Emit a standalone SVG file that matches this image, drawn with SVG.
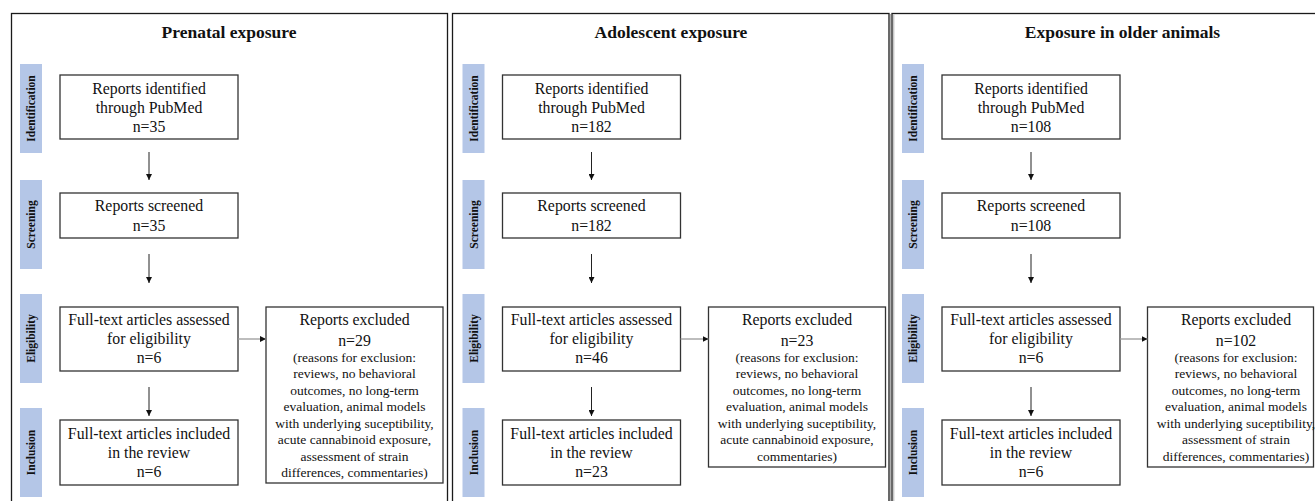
<svg xmlns="http://www.w3.org/2000/svg" width="1315" height="501" viewBox="0 0 1315 501" font-family="'Liberation Serif', Tinos, 'Times New Roman', serif">
<style>
.panel{fill:none;stroke:#1a1a1a;stroke-width:1.3}
.shadow{fill:none;stroke:#b0b0b0;stroke-width:1}
.bar{fill:#b4c6e7}
.box{fill:#fff;stroke:#333;stroke-width:1.3}
text{font-family:'Liberation Serif',Tinos,'Times New Roman',serif}
.t{font-size:15.8px;fill:#111;text-anchor:middle}
.s{font-size:13.5px}
.title{font-weight:bold;font-size:17.5px;fill:#111;text-anchor:middle}
.lab{font-weight:bold;font-size:11.5px;fill:#111;text-anchor:middle}
.arr{stroke:#222;stroke-width:1;fill:none;marker-end:url(#ah)}
.harr{stroke:#999;stroke-width:1.3;fill:none;marker-end:url(#ah)}
</style>
<defs>
<marker id="ah" markerUnits="userSpaceOnUse" markerWidth="7" markerHeight="6" refX="6" refY="3" orient="auto">
<path d="M0,0 L6,3 L0,6 z" fill="#111"/>
</marker>
</defs>
<rect width="1315" height="501" fill="#fff"/>

<g id="panel-borders">
<rect class="panel" x="11.5" y="13.5" width="436" height="500"/>
<rect class="panel" x="452.5" y="13.5" width="436.5" height="500"/>
<line class="shadow" x1="890.5" y1="14" x2="890.5" y2="501"/>
<rect class="panel" x="892" y="13.5" width="440" height="500"/>
<line class="shadow" x1="893.8" y1="14.5" x2="893.8" y2="501"/>
</g>

<!-- Panel 1 -->
<g id="panel1">
<text class="title" x="229" y="38">Prenatal exposure</text>
<g id="p1-stages">
<rect class="bar" x="20" y="64" width="22" height="89"/>
<text class="lab" transform="translate(35,108.5) rotate(-90)">Identification</text>
<rect class="bar" x="20" y="180" width="22" height="89"/>
<text class="lab" transform="translate(35,224.5) rotate(-90)">Screening</text>
<rect class="bar" x="20" y="294" width="22" height="89"/>
<text class="lab" transform="translate(35,338.5) rotate(-90)">Eligibility</text>
<rect class="bar" x="20" y="408" width="22" height="89"/>
<text class="lab" transform="translate(35,452.5) rotate(-90)">Inclusion</text>
</g>
<g id="p1-identified">
<rect class="box" x="60" y="75" width="178" height="64"/>
<text class="t" x="149" y="94">Reports identified</text>
<text class="t" x="149" y="113">through PubMed</text>
<text class="t" x="149" y="132">n=35</text>
</g>
<g id="p1-screened">
<rect class="box" x="60" y="193" width="178" height="45"/>
<text class="t" x="149" y="211">Reports screened</text>
<text class="t" x="149" y="231">n=35</text>
</g>
<g id="p1-assessed">
<rect class="box" x="60" y="307" width="178" height="64"/>
<text class="t" x="149" y="325">Full-text articles assessed</text>
<text class="t" x="149" y="344">for eligibility</text>
<text class="t" x="149" y="363">n=6</text>
</g>
<g id="p1-included">
<rect class="box" x="60" y="420" width="178" height="65"/>
<text class="t" x="149" y="439">Full-text articles included</text>
<text class="t" x="149" y="458">in the review</text>
<text class="t" x="149" y="477">n=6</text>
</g>
<g id="p1-excluded">
<rect class="box" x="266" y="307" width="177" height="176"/>
<text class="t" x="354.5" y="325">Reports excluded</text>
<text class="t" x="354.5" y="346">n=29</text>
<text class="t s" x="354.5" y="361.5">(reasons for exclusion:</text>
<text class="t s" x="354.5" y="378">reviews, no behavioral</text>
<text class="t s" x="354.5" y="394.5">outcomes, no long-term</text>
<text class="t s" x="354.5" y="411">evaluation, animal models</text>
<text class="t s" x="354.5" y="427.5">with underlying suceptibility,</text>
<text class="t s" x="354.5" y="444">acute cannabinoid exposure,</text>
<text class="t s" x="354.5" y="460.5">assessment of strain</text>
<text class="t s" x="354.5" y="477">differences, commentaries)</text>
</g>
<g id="p1-connectors">
<line class="arr" x1="149" y1="152" x2="149" y2="180"/>
<line class="arr" x1="149" y1="254" x2="149" y2="283"/>
<line class="arr" x1="149" y1="387" x2="149" y2="416"/>
<line class="harr" x1="238" y1="339" x2="266" y2="339"/>
</g>
</g>

<!-- Panel 2 -->
<g id="panel2">
<text class="title" x="671" y="38">Adolescent exposure</text>
<g id="p2-stages">
<rect class="bar" x="462.5" y="64" width="22" height="89"/>
<text class="lab" transform="translate(477.5,108.5) rotate(-90)">Identification</text>
<rect class="bar" x="462.5" y="180" width="22" height="89"/>
<text class="lab" transform="translate(477.5,224.5) rotate(-90)">Screening</text>
<rect class="bar" x="462.5" y="294" width="22" height="89"/>
<text class="lab" transform="translate(477.5,338.5) rotate(-90)">Eligibility</text>
<rect class="bar" x="462.5" y="408" width="22" height="89"/>
<text class="lab" transform="translate(477.5,452.5) rotate(-90)">Inclusion</text>
</g>
<g id="p2-identified">
<rect class="box" x="502.5" y="75" width="178" height="64"/>
<text class="t" x="591.5" y="94">Reports identified</text>
<text class="t" x="591.5" y="113">through PubMed</text>
<text class="t" x="591.5" y="132">n=182</text>
</g>
<g id="p2-screened">
<rect class="box" x="502.5" y="193" width="178" height="45"/>
<text class="t" x="591.5" y="211">Reports screened</text>
<text class="t" x="591.5" y="231">n=182</text>
</g>
<g id="p2-assessed">
<rect class="box" x="502.5" y="307" width="178" height="64"/>
<text class="t" x="591.5" y="325">Full-text articles assessed</text>
<text class="t" x="591.5" y="344">for eligibility</text>
<text class="t" x="591.5" y="363">n=46</text>
</g>
<g id="p2-included">
<rect class="box" x="502.5" y="420" width="178" height="65"/>
<text class="t" x="591.5" y="439">Full-text articles included</text>
<text class="t" x="591.5" y="458">in the review</text>
<text class="t" x="591.5" y="477">n=23</text>
</g>
<g id="p2-excluded">
<rect class="box" x="708.5" y="307" width="177" height="160"/>
<text class="t" x="797" y="325">Reports excluded</text>
<text class="t" x="797" y="346">n=23</text>
<text class="t s" x="797" y="361.5">(reasons for exclusion:</text>
<text class="t s" x="797" y="378">reviews, no behavioral</text>
<text class="t s" x="797" y="394.5">outcomes, no long-term</text>
<text class="t s" x="797" y="411">evaluation, animal models</text>
<text class="t s" x="797" y="427.5">with underlying suceptibility,</text>
<text class="t s" x="797" y="444">acute cannabinoid exposure,</text>
<text class="t s" x="797" y="460.5">commentaries)</text>
</g>
<g id="p2-connectors">
<line class="arr" x1="591.5" y1="152" x2="591.5" y2="180"/>
<line class="arr" x1="591.5" y1="254" x2="591.5" y2="283"/>
<line class="arr" x1="591.5" y1="387" x2="591.5" y2="416"/>
<line class="harr" x1="680.5" y1="339" x2="708.5" y2="339"/>
</g>
</g>

<!-- Panel 3 -->
<g id="panel3">
<text class="title" x="1122.5" y="38">Exposure in older animals</text>
<g id="p3-stages">
<rect class="bar" x="902" y="64" width="22" height="89"/>
<text class="lab" transform="translate(917,108.5) rotate(-90)">Identification</text>
<rect class="bar" x="902" y="180" width="22" height="89"/>
<text class="lab" transform="translate(917,224.5) rotate(-90)">Screening</text>
<rect class="bar" x="902" y="294" width="22" height="89"/>
<text class="lab" transform="translate(917,338.5) rotate(-90)">Eligibility</text>
<rect class="bar" x="902" y="408" width="22" height="89"/>
<text class="lab" transform="translate(917,452.5) rotate(-90)">Inclusion</text>
</g>
<g id="p3-identified">
<rect class="box" x="942" y="75" width="178" height="64"/>
<text class="t" x="1031" y="94">Reports identified</text>
<text class="t" x="1031" y="113">through PubMed</text>
<text class="t" x="1031" y="132">n=108</text>
</g>
<g id="p3-screened">
<rect class="box" x="942" y="193" width="178" height="45"/>
<text class="t" x="1031" y="211">Reports screened</text>
<text class="t" x="1031" y="231">n=108</text>
</g>
<g id="p3-assessed">
<rect class="box" x="942" y="307" width="178" height="64"/>
<text class="t" x="1031" y="325">Full-text articles assessed</text>
<text class="t" x="1031" y="344">for eligibility</text>
<text class="t" x="1031" y="363">n=6</text>
</g>
<g id="p3-included">
<rect class="box" x="942" y="420" width="178" height="65"/>
<text class="t" x="1031" y="439">Full-text articles included</text>
<text class="t" x="1031" y="458">in the review</text>
<text class="t" x="1031" y="477">n=6</text>
</g>
<g id="p3-excluded">
<rect class="box" x="1147.5" y="307" width="166" height="160"/>
<text class="t" x="1236" y="325">Reports excluded</text>
<text class="t" x="1236" y="346">n=102</text>
<text class="t s" x="1236" y="361.5">(reasons for exclusion:</text>
<text class="t s" x="1236" y="378">reviews, no behavioral</text>
<text class="t s" x="1236" y="394.5">outcomes, no long-term</text>
<text class="t s" x="1236" y="411">evaluation, animal models</text>
<text class="t s" x="1236" y="427.5">with underlying suceptibility,</text>
<text class="t s" x="1236" y="444">assessment of strain</text>
<text class="t s" x="1236" y="460.5">differences, commentaries)</text>
</g>
<g id="p3-connectors">
<line class="arr" x1="1031" y1="152" x2="1031" y2="180"/>
<line class="arr" x1="1031" y1="254" x2="1031" y2="283"/>
<line class="arr" x1="1031" y1="387" x2="1031" y2="416"/>
<line class="harr" x1="1120" y1="339" x2="1147.5" y2="339"/>
</g>
</g>
</svg>
